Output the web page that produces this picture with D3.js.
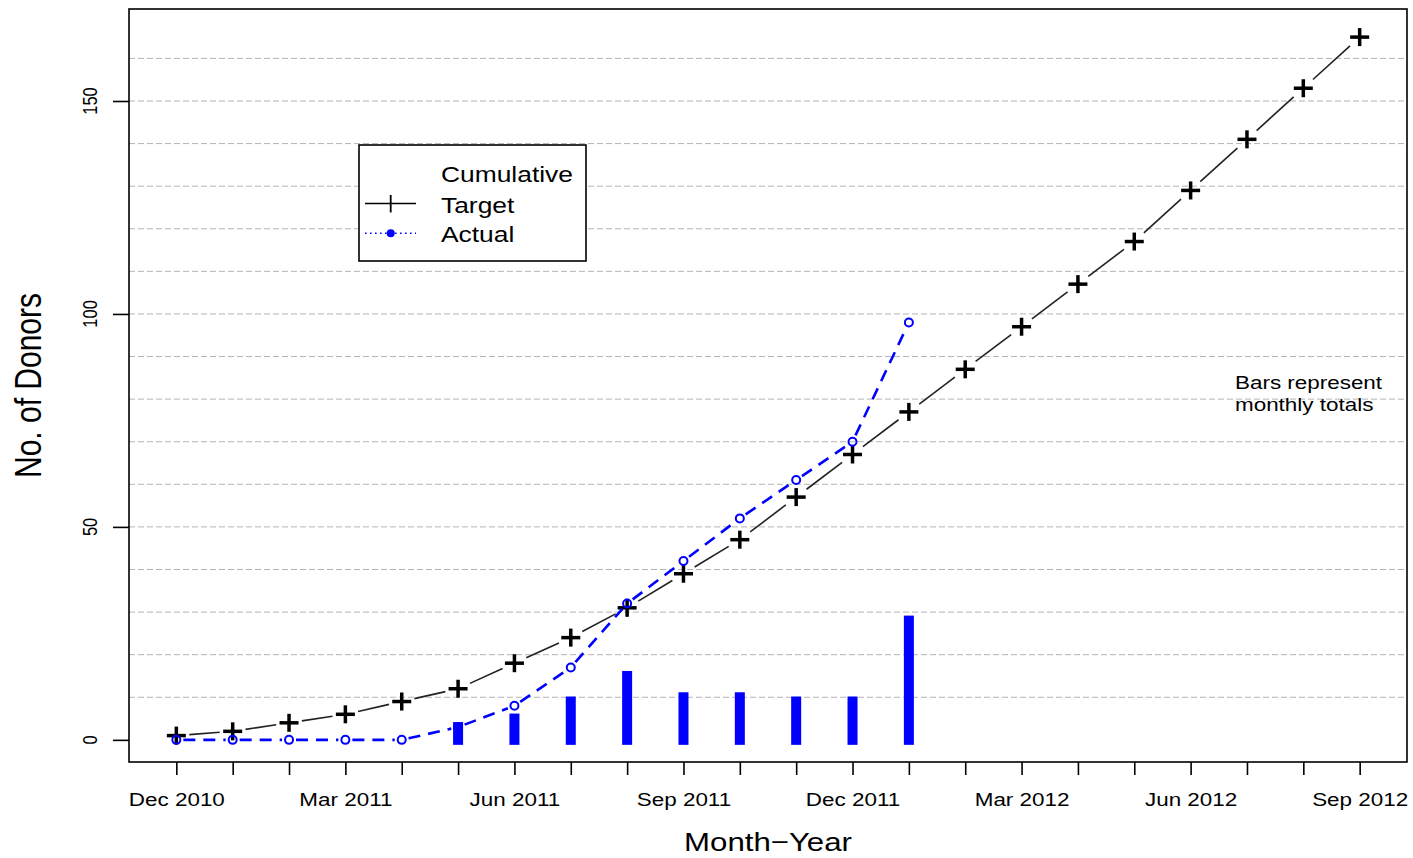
<!DOCTYPE html>
<html>
<head>
<meta charset="utf-8">
<script src="https://cdn.jsdelivr.net/npm/d3@7/dist/d3.min.js"></script>
<style>
  html, body { margin: 0; padding: 0; background: #fff; }
  svg { display: block; font-family: "Liberation Sans", Arial, Helvetica, sans-serif; }
</style>
</head>
<body>
<svg id="chart" width="1413" height="858"></svg>
<script>
// Months from Dec 2010 to Sep 2012
const months = ["Dec 2010","Jan 2011","Feb 2011","Mar 2011","Apr 2011","May 2011","Jun 2011",
  "Jul 2011","Aug 2011","Sep 2011","Oct 2011","Nov 2011","Dec 2011","Jan 2012","Feb 2012",
  "Mar 2012","Apr 2012","May 2012","Jun 2012","Jul 2012","Aug 2012","Sep 2012"];
// Labelled x ticks (every third month)
const xTickLabels = ["Dec 2010","Mar 2011","Jun 2011","Sep 2011","Dec 2011","Mar 2012","Jun 2012","Sep 2012"];
// Cumulative target donors per month
const target = [1,2,4,6,9,12,18,24,31,39,47,57,67,77,87,97,107,117,129,141,153,165];
// Cumulative actual donors (Dec 2010 – Jan 2012)
const actual = [0,0,0,0,0,3,8,17,32,42,52,61,70,98];
// Monthly totals (bars)
const monthly = [0,0,0,0,0,3,5,9,15,10,10,9,9,28];
// y axis ticks and grid levels
const yTicks = [0,50,100,150];
const gridLevels = [10,20,30,40,50,60,70,80,90,100,110,120,130,140,150,160];

const svg = d3.select("#chart");
const plot = { left: 129, right: 1407, top: 9, bottom: 762 };
const SX = 1.2; // horizontal stretch of glyphs

const x = d3.scaleLinear().domain([-0.84, months.length - 1 + 0.84]).range([plot.left, plot.right]);
const y = d3.scaleLinear().domain([-5.2, 171.6]).range([plot.bottom, plot.top]);

// horizontal grid lines
svg.append("g").selectAll("line").data(gridLevels).join("line")
  .attr("x1", plot.left).attr("x2", plot.right)
  .attr("y1", d => y(d)).attr("y2", d => y(d))
  .attr("stroke", "#b4b4b4").attr("stroke-width", 1).attr("stroke-dasharray", "6,3");

// connect successive points leaving a gap around each marker
function gappedSegments(values, gap) {
  const segs = [];
  for (let i = 0; i < values.length - 1; i++) {
    const x1 = x(i), y1 = y(values[i]), x2 = x(i + 1), y2 = y(values[i + 1]);
    const len = Math.hypot(x2 - x1, y2 - y1);
    if (len <= 2 * gap) continue;
    const ux = (x2 - x1) / len, uy = (y2 - y1) / len;
    segs.push({ x1: x1 + ux * gap, y1: y1 + uy * gap, x2: x2 - ux * gap, y2: y2 - uy * gap });
  }
  return segs;
}

// target line and plus markers
svg.append("g").selectAll("line").data(gappedSegments(target, 13)).join("line")
  .attr("x1", d => d.x1).attr("y1", d => d.y1).attr("x2", d => d.x2).attr("y2", d => d.y2)
  .attr("stroke", "#222").attr("stroke-width", 1.6);

const plusG = svg.append("g").attr("stroke", "#000").attr("stroke-width", 3.5);
target.forEach((v, i) => {
  const cx = x(i), cy = y(v);
  plusG.append("line").attr("x1", cx - 9.5).attr("x2", cx + 9.5).attr("y1", cy).attr("y2", cy);
  plusG.append("line").attr("x1", cx).attr("x2", cx).attr("y1", cy - 9).attr("y2", cy + 9);
});

// actual line (dashed) and open circles
svg.append("g").selectAll("line").data(gappedSegments(actual, 7)).join("line")
  .attr("x1", d => d.x1).attr("y1", d => d.y1).attr("x2", d => d.x2).attr("y2", d => d.y2)
  .attr("stroke", "#0000ff").attr("stroke-width", 2.6).attr("stroke-dasharray", "12,8");

svg.append("g").selectAll("circle").data(actual).join("circle")
  .attr("cx", (d, i) => x(i)).attr("cy", d => y(d)).attr("r", 4)
  .attr("fill", "none").attr("stroke", "#0000ff").attr("stroke-width", 2);

// monthly bars (square-ended thick strokes)
const barHalf = 5;
svg.append("g").selectAll("rect")
  .data(monthly.map((v, i) => ({ v, i })).filter(d => d.v > 0)).join("rect")
  .attr("x", d => x(d.i) - barHalf).attr("width", 2 * barHalf)
  .attr("y", d => y(d.v) - barHalf)
  .attr("height", d => y(0) - y(d.v) + 2 * barHalf)
  .attr("fill", "#0000ff");

// plot frame
svg.append("rect")
  .attr("x", plot.left).attr("y", plot.top)
  .attr("width", plot.right - plot.left).attr("height", plot.bottom - plot.top)
  .attr("fill", "none").attr("stroke", "#000").attr("stroke-width", 1.6);

// x axis
const xAxis = d3.axisBottom(x)
  .tickValues(d3.range(months.length))
  .tickSize(13)
  .tickFormat(i => xTickLabels.includes(months[i]) ? months[i] : "");
const gx = svg.append("g").attr("transform", `translate(0,${plot.bottom})`).call(xAxis);
gx.select(".domain").remove();
gx.selectAll(".tick line").attr("stroke", "#000").attr("stroke-width", 1.6);
gx.selectAll(".tick text")
  .attr("y", 44).attr("dy", null)
  .attr("transform", `scale(${SX},1)`)
  .attr("font-size", 18.7).attr("fill", "#000")
  .attr("font-family", "Liberation Sans, Arial, sans-serif");

// y axis
const yAxis = d3.axisLeft(y).tickValues(yTicks).tickSize(16).tickFormat("");
const gy = svg.append("g").attr("transform", `translate(${plot.left},0)`).call(yAxis);
gy.select(".domain").remove();
gy.selectAll(".tick line").attr("stroke", "#000").attr("stroke-width", 1.6);

svg.append("g").selectAll("text").data(yTicks).join("text")
  .attr("transform", d => `translate(97,${y(d)}) rotate(-90) scale(1,${SX})`)
  .attr("text-anchor", "middle").attr("font-size", 16.5).attr("fill", "#000")
  .text(d => d);

// axis titles
svg.append("text")
  .attr("transform", `translate(768,851) scale(${SX},1)`)
  .attr("text-anchor", "middle").attr("font-size", 26).attr("fill", "#000")
  .text("Month\u2212Year");

svg.append("text")
  .attr("transform", `translate(41,385.5) rotate(-90) scale(1,${SX})`)
  .attr("text-anchor", "middle").attr("font-size", 30).attr("fill", "#000")
  .text("No. of Donors");

// note about bars
const note = ["Bars represent", "monthly totals"];
svg.append("g").selectAll("text").data(note).join("text")
  .attr("transform", (d, i) => `translate(1235,${388.7 + i * 22.6}) scale(${SX},1)`)
  .attr("font-size", 18.7).attr("fill", "#000")
  .text(d => d);

// legend
const lg = svg.append("g");
lg.append("rect").attr("x", 359).attr("y", 145).attr("width", 227).attr("height", 116)
  .attr("fill", "#fff").attr("stroke", "#000").attr("stroke-width", 1.6);
const legendRows = [
  { label: "Cumulative", yb: 182 },
  { label: "Target", yb: 212.7 },
  { label: "Actual", yb: 241.7 }
];
lg.selectAll("text").data(legendRows).join("text")
  .attr("transform", d => `translate(441,${d.yb}) scale(${SX},1)`)
  .attr("font-size", 22).attr("fill", "#000")
  .text(d => d.label);
// target key
lg.append("line").attr("x1", 365).attr("x2", 416).attr("y1", 203.5).attr("y2", 203.5)
  .attr("stroke", "#000").attr("stroke-width", 1.5);
lg.append("line").attr("x1", 390.7).attr("x2", 390.7).attr("y1", 195).attr("y2", 212.5)
  .attr("stroke", "#000").attr("stroke-width", 1.8);
// actual key
lg.append("line").attr("x1", 365).attr("x2", 416).attr("y1", 233.3).attr("y2", 233.3)
  .attr("stroke", "#0000ff").attr("stroke-width", 1.6).attr("stroke-dasharray", "1.6,3.4");
lg.append("circle").attr("cx", 390.7).attr("cy", 233.3).attr("r", 4)
  .attr("fill", "#0000ff");
</script>
</body>
</html>
